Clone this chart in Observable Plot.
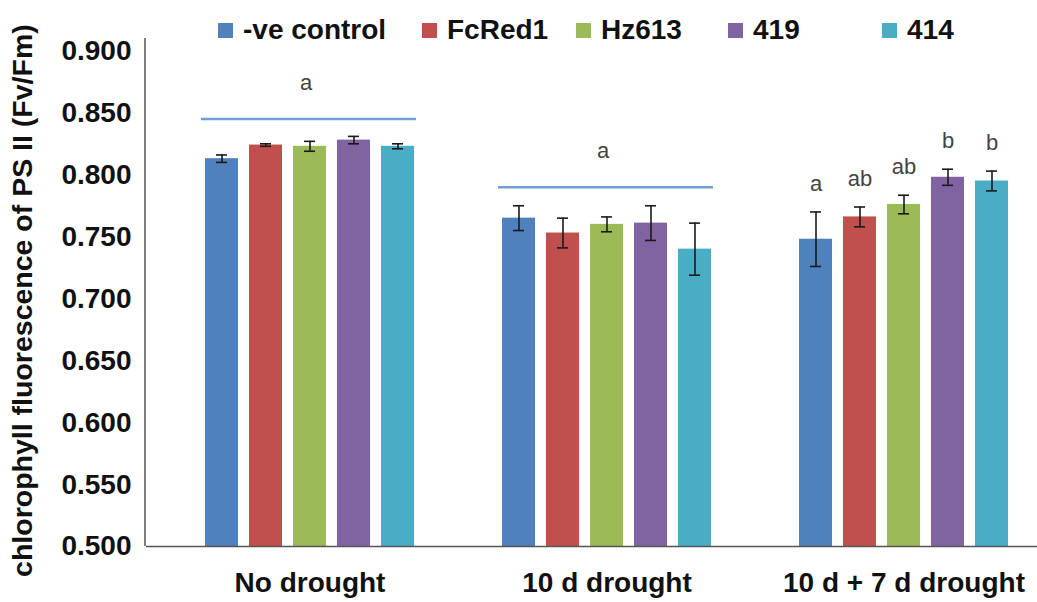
<!DOCTYPE html>
<html>
<head>
<meta charset="utf-8">
<script src="https://cdn.jsdelivr.net/npm/d3@7"></script>
<script src="https://cdn.jsdelivr.net/npm/@observablehq/plot@0.6"></script>
<style>
  body { margin: 0; background: #fff; font-family: "Liberation Sans", Arial, sans-serif; }
  #wrap { position: relative; width: 1037px; height: 602px; }
  #legend { position: relative; width: 1037px; height: 30px; z-index: 1; }
  .item { position: absolute; top: 15px; height: 30px; display: flex; align-items: center; font-size: 28px; font-weight: bold; color: #111; white-space: nowrap; }
  .sw { width: 15px; height: 15px; margin-right: 10px; }
  #chart svg { overflow: visible; }
</style>
</head>
<body>
<div id="wrap">
  <div id="legend"></div>
  <div id="chart"></div>
</div>
<script>
// ---- data ----
const groups = ["No drought", "10 d drought", "10 d + 7 d drought"];
const series = ["-ve control", "FcRed1", "Hz613", "419", "414"];
const colors = ["#4F81BD", "#C0504D", "#9BBB59", "#8064A2", "#4BACC6"];

const meanNoDrought = [0.813, 0.824, 0.823, 0.828, 0.823];
const meanDrought10 = [0.765, 0.753, 0.760, 0.761, 0.740];
const meanDrought10plus7 = [0.748, 0.766, 0.776, 0.798, 0.795];

const errNoDrought = [0.003, 0.001, 0.004, 0.003, 0.002];
const errDrought10 = [0.010, 0.012, 0.006, 0.014, 0.021];
const errDrought10plus7 = [0.022, 0.008, 0.0075, 0.0065, 0.008];

// group-level significance lines and letters
const groupLineGroups = ["No drought", "10 d drought"];
const groupLineValues = [0.845, 0.790];
const groupLineLetters = ["a", "a"];

// per-bar letters for the last group
const barLetters = ["a", "ab", "ab", "b", "b"];

const yTicks = [0.5, 0.55, 0.6, 0.65, 0.7, 0.75, 0.8, 0.85, 0.9];
const yLabel = "chlorophyll fluorescence of PS II (Fv/Fm)";

// ---- build tables ----
const means = [meanNoDrought, meanDrought10, meanDrought10plus7];
const errs = [errNoDrought, errDrought10, errDrought10plus7];
const rows = groups.flatMap((g, gi) => series.map((s, si) => ({
  group: g, series: s, value: means[gi][si], err: errs[gi][si]
})));
const groupLines = groupLineGroups.map((g, i) => ({group: g, value: groupLineValues[i], letter: groupLineLetters[i]}));
const letterRows = series.map((s, si) => ({
  group: groups[2], series: s, value: means[2][si] + errs[2][si], letter: barLetters[si]
}));

// ---- legend ----
const legendLeft = [218, 422, 576, 728, 882];
const legend = d3.select("#legend");
series.forEach((s, i) => {
  const it = legend.append("div").attr("class", "item").style("left", legendLeft[i] + "px");
  it.append("div").attr("class", "sw").style("background", colors[i]);
  it.append("span").text(s);
});

// ---- chart ----
const chart = Plot.plot({
  width: 1037,
  height: 572,
  marginTop: 8,
  marginBottom: 56,
  marginLeft: 145,
  marginRight: 0,
  style: {fontFamily: "'Liberation Sans', Arial, sans-serif", fontWeight: "bold", color: "#111", background: "#fff", overflow: "visible"},
  fx: {domain: groups, padding: 0, axis: null},
  x: {domain: series, paddingInner: 0.244, paddingOuter: 0.926, align: 0.672, axis: null},
  y: {domain: [0.5, 0.91], axis: null},
  color: {domain: series, range: colors},
  marks: [
    Plot.barY(rows, {fx: "group", x: "series", y1: () => 0.5, y2: "value", fill: "series"}),
    Plot.ruleX(rows, {fx: "group", x: "series", y1: d => d.value - d.err, y2: d => d.value + d.err, stroke: "#1a1a1a", strokeWidth: 1.6}),
    Plot.tickY(rows, {fx: "group", x: "series", y: d => d.value + d.err, insetLeft: 11, insetRight: 11, stroke: "#1a1a1a", strokeWidth: 1.6}),
    Plot.tickY(rows, {fx: "group", x: "series", y: d => d.value - d.err, insetLeft: 11, insetRight: 11, stroke: "#1a1a1a", strokeWidth: 1.6}),
    Plot.ruleY(groupLines, {fx: "group", x1: () => series[0], x2: () => series[4], y: "value", stroke: "#6f9fd6", strokeWidth: 2.5, insetLeft: -4, insetRight: -2}),
    Plot.text(groupLines, {fx: "group", x: () => series[2], y: "value", text: "letter", dy: -36, dx: -4, fontSize: 22, fontWeight: "normal", fill: "#444"}),
    Plot.text(letterRows, {fx: "group", x: "series", y: "value", text: "letter", dy: -28, fontSize: 22, fontWeight: "normal", fill: "#444"}),
    Plot.ruleY([0.5], {stroke: "#555", strokeWidth: 1.5}),
    Plot.axisY({ticks: yTicks, tickFormat: d3.format(".3f"), tickSize: 0, tickPadding: 15, fontSize: 28, label: null, fill: "#111"}),
    Plot.text(groups, {fx: d => d, x: () => series[2], y: () => 0.5, text: d => d, dy: 37, fontSize: 28, fill: "#111"}),
    Plot.text([yLabel], {fx: () => groups[0], frameAnchor: "left", textAnchor: "middle", y: () => 0.6985, text: d => d, dx: -124, rotate: -90, fontSize: 28.5, fill: "#111"})
  ]
});

// y axis line drawn from the plot's own y scale
const ys = chart.scale("y");
d3.select(chart).append("line")
  .attr("x1", 145).attr("x2", 145)
  .attr("y1", ys.apply(0.5)).attr("y2", ys.apply(0.91))
  .attr("stroke", "#555").attr("stroke-width", 1.5);

document.getElementById("chart").appendChild(chart);
</script>
</body>
</html>
